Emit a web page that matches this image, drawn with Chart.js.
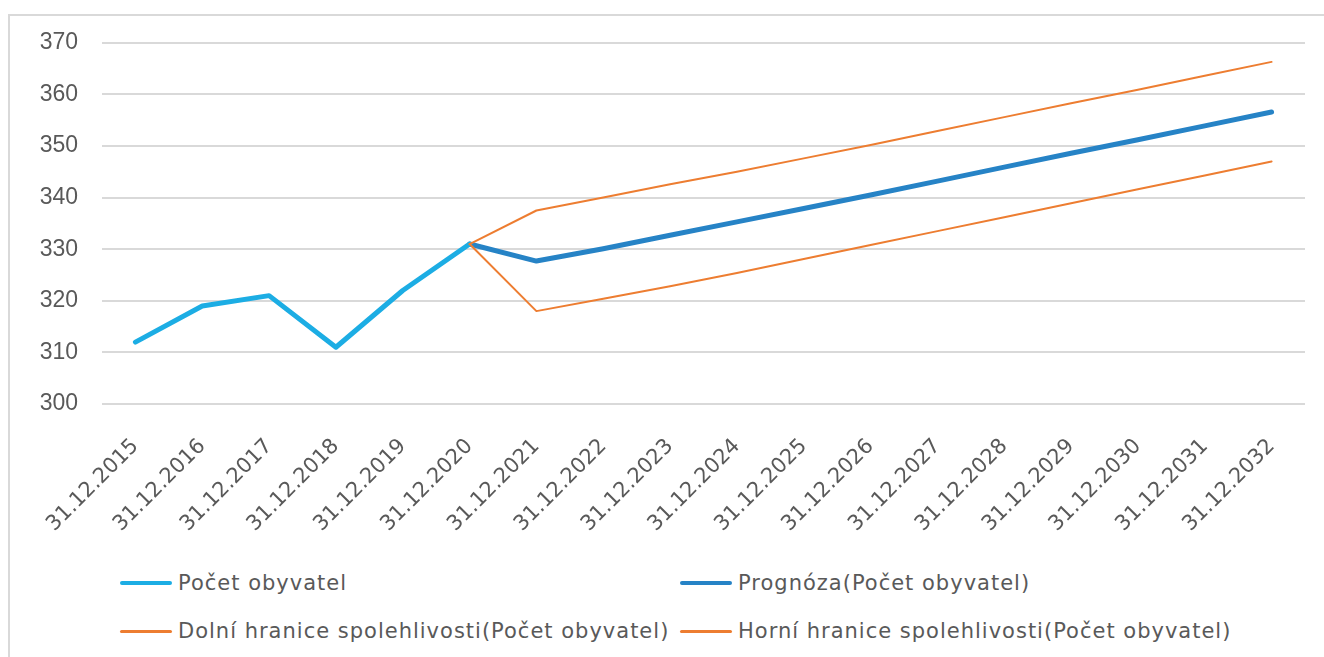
<!DOCTYPE html>
<html>
<head>
<meta charset="utf-8">
<script src="https://cdn.jsdelivr.net/npm/chart.js"></script>
<style>
  body { margin: 0; background: #fff; font-family: "Liberation Sans", sans-serif; }
  #wrap { position: relative; width: 1324px; height: 657px; overflow: hidden; }
  #frame { position: absolute; left: 8px; top: 14px; width: 1330px; height: 660px; border: 2px solid #d9d9d9; box-sizing: border-box; }
  #chart { position: absolute; left: 0; top: 5px; }
  .lg { position: absolute; display: flex; align-items: center; color: #595959; font-family: "DejaVu Sans", sans-serif; font-size: 21px; letter-spacing: 1px; white-space: nowrap; }
  .lg span.ln { display: inline-block; width: 52px; margin-right: 6px; border-radius: 3px; }
</style>
</head>
<body>
<div id="wrap">
  <div id="frame"></div>
  <canvas id="chart" width="1324" height="535"></canvas>
  <div id="legend"></div>
</div>
<script>
const categories = ['31.12.2015', '31.12.2016', '31.12.2017', '31.12.2018', '31.12.2019', '31.12.2020',
  '31.12.2021', '31.12.2022', '31.12.2023', '31.12.2024', '31.12.2025', '31.12.2026',
  '31.12.2027', '31.12.2028', '31.12.2029', '31.12.2030', '31.12.2031', '31.12.2032'];

const pocet = [312, 319, 321, 311, 322, 331, null, null, null, null, null, null, null, null, null, null, null, null];
const prognoza = [null, null, null, null, null, 331, 327.7, 330.1, 332.7, 335.3, 337.9, 340.5, 343.2, 345.9, 348.6, 351.2, 353.9, 356.6];
const dolni = [null, null, null, null, null, 331, 318.0, 320.4, 322.8, 325.4, 328.1, 330.8, 333.5, 336.2, 338.9, 341.6, 344.3, 347.0];
const horni = [null, null, null, null, null, 331, 337.5, 340.0, 342.6, 345.0, 347.6, 350.2, 352.9, 355.6, 358.3, 360.9, 363.6, 366.3];

const yTicks = [300, 310, 320, 330, 340, 350, 360, 370];

const seriesNames = ['Počet obyvatel', 'Prognóza(Počet obyvatel)',
  'Dolní hranice spolehlivosti(Počet obyvatel)', 'Horní hranice spolehlivosti(Počet obyvatel)'];

const textColor = '#595959';
const gridColor = '#d9d9d9';

function line(label, data, color, width, order) {
  return {
    label: label,
    data: data,
    borderColor: color,
    backgroundColor: color,
    borderWidth: width,
    pointRadius: 0,
    tension: 0,
    borderCapStyle: 'round',
    borderJoinStyle: 'round',
    spanGaps: false,
    order: order
  };
}

const datasets = [
  line(seriesNames[0], pocet, '#1cade4', 5, 1),
  line(seriesNames[1], prognoza, '#2683c6', 5, 1),
  line(seriesNames[2], dolni, '#ed7d31', 2, 0),
  line(seriesNames[3], horni, '#ed7d31', 2, 0)
];

new Chart(document.getElementById('chart'), {
  type: 'line',
  data: { labels: categories, datasets: datasets },
  options: {
    responsive: false,
    animation: false,
    layout: { padding: { top: 32, right: 19, left: 0, bottom: 0 } },
    plugins: { legend: { display: false }, tooltip: { enabled: false } },
    scales: {
      x: {
        offset: true,
        grid: { display: false },
        border: { display: false },
        ticks: {
          autoSkip: false,
          maxRotation: 45,
          minRotation: 45,
          padding: 22,
          color: textColor,
          font: { family: 'DejaVu Sans', size: 21 }
        },
        afterFit: (scale) => { scale.height = 136; }
      },
      y: {
        min: 300,
        max: 370,
        afterBuildTicks: (scale) => { scale.ticks = yTicks.map(v => ({ value: v })); },
        grid: { color: gridColor, lineWidth: 2, drawTicks: false },
        border: { display: false },
        ticks: {
          padding: 24,
          color: textColor,
          font: { family: 'Liberation Sans', size: 23 }
        },
        afterFit: (scale) => { scale.width = 102; }
      }
    }
  }
});

// legend in two columns like the original
const legendPos = [[120, 583], [680, 583], [120, 631], [680, 631]];
const legendEl = document.getElementById('legend');
datasets.forEach((ds, i) => {
  const item = document.createElement('div');
  item.className = 'lg';
  item.style.left = legendPos[i][0] + 'px';
  item.style.top = (legendPos[i][1] - 14) + 'px';
  item.style.height = '28px';
  const ln = document.createElement('span');
  ln.className = 'ln';
  ln.style.height = (ds.borderWidth > 3 ? 4 : 3) + 'px';
  ln.style.background = ds.borderColor;
  item.appendChild(ln);
  item.appendChild(document.createTextNode(ds.label));
  legendEl.appendChild(item);
});
</script>
</body>
</html>
